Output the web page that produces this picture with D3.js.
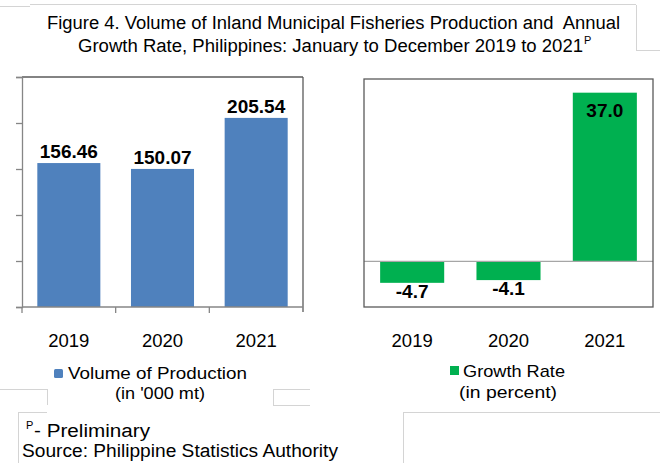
<!DOCTYPE html>
<html><head><meta charset="utf-8">
<script src="https://cdn.jsdelivr.net/npm/d3@7"></script>
<style>
html,body{margin:0;padding:0;background:#fff;}
svg{display:block;font-family:"Liberation Sans",Arial,sans-serif;}
</style></head>
<body>
<svg id="c" width="660" height="463"></svg>
<script>
const years = ["2019", "2020", "2021"];
const volume = [156.46, 150.07, 205.54];
const volumeLabels = ["156.46", "150.07", "205.54"];
const growth = [-4.7, -4.1, 37.0];
const growthLabels = ["-4.7", "-4.1", "37.0"];
const volumeTicks = [0, 50, 100, 150, 200, 250];
const titleLines = ["Figure 4. Volume of Inland Municipal Fisheries Production and  Annual",
                    "Growth Rate, Philippines: January to December 2019 to 2021"];
const legendVolume = ["Volume of Production", "(in '000 mt)"];
const legendGrowth = ["Growth Rate", "(in percent)"];
const footnotes = ["- Preliminary", "Source: Philippine Statistics Authority"];

const svg = d3.select("#c");
const light = "#d4d4d4", axisCol = "#868686", boxCol = "#5a5a5a";
const blue = "#4F81BD", green = "#00B050";

// decorative light frame lines
const frame = [
  [0,6,30,6],[30,4.5,636,4.5],[636,4.5,636,50],[636,50,660,50],
  [0,389,47,389],[47,389,47,405],
  [273,389,310,389],[273,389,273,405],[273,405,310,405],
  [18,412,47,412],[18,412,18,463],
  [403,412,660,412],[403,412,403,463]
];
svg.append("g").selectAll("line").data(frame).join("line")
  .attr("x1",d=>d[0]).attr("y1",d=>d[1]).attr("x2",d=>d[2]).attr("y2",d=>d[3])
  .attr("stroke",light).attr("stroke-width",1).attr("shape-rendering","crispEdges");

// title
const tg = svg.append("g").attr("fill","#000").style("font-size","18px");
tg.append("text").attr("x",47).attr("y",29).attr("textLength",573).attr("lengthAdjust","spacingAndGlyphs")
  .style("white-space","pre").text(titleLines[0]);
tg.append("text").attr("x",78).attr("y",52).attr("textLength",505).attr("lengthAdjust","spacingAndGlyphs")
  .text(titleLines[1]);
tg.append("text").attr("x",584).attr("y",44).style("font-size","11px").text("P");

// ---------- left chart ----------
const xL = d3.scaleBand().domain(years).range([22,303]).paddingInner(0.327).paddingOuter(0.1635);
const yL = d3.scaleLinear().domain([0,250]).range([307,77]);

const gL = svg.append("g");
gL.append("line").attr("x1",22).attr("x2",303).attr("y1",yL(250)).attr("y2",yL(250))
  .attr("stroke",boxCol).attr("stroke-width",1.3);
gL.append("line").attr("x1",303).attr("x2",303).attr("y1",yL(250)).attr("y2",312)
  .attr("stroke",boxCol).attr("stroke-width",1.3);

const yAx = gL.append("g").attr("transform","translate(22,0)")
  .call(d3.axisLeft(yL).tickValues(volumeTicks).tickSize(6).tickFormat(""));
yAx.selectAll("path,line").attr("stroke",axisCol).attr("stroke-width",1.3);

gL.selectAll("rect.bar").data(years).join("rect").attr("class","bar")
  .attr("x",d=>xL(d)).attr("width",xL.bandwidth())
  .attr("y",(d,i)=>yL(volume[i])).attr("height",(d,i)=>yL(0)-yL(volume[i]))
  .attr("fill",blue);

// bottom axis line & boundary ticks
const stepL = xL.step(), gapL = stepL*xL.paddingInner()/2;
const boundsL = years.map(d=>xL(d)-gapL).concat([xL(years[2])+xL.bandwidth()+gapL]);
gL.append("line").attr("x1",22).attr("x2",303).attr("y1",yL(0)).attr("y2",yL(0))
  .attr("stroke",axisCol).attr("stroke-width",1.3);
gL.selectAll("line.bt").data(boundsL.slice(0,3)).join("line").attr("class","bt")
  .attr("x1",d=>d).attr("x2",d=>d).attr("y1",yL(0)).attr("y2",yL(0)+6)
  .attr("stroke",axisCol).attr("stroke-width",1.3);

gL.selectAll("text.val").data(years).join("text").attr("class","val")
  .attr("x",d=>xL(d)+xL.bandwidth()/2).attr("y",(d,i)=>yL(volume[i])-5)
  .attr("text-anchor","middle").style("font-size","19px").style("font-weight","bold")
  .text((d,i)=>volumeLabels[i]);

gL.selectAll("text.cat").data(years).join("text").attr("class","cat")
  .attr("x",d=>xL(d)+xL.bandwidth()/2).attr("y",347)
  .attr("text-anchor","middle").style("font-size","18.5px").text(d=>d);

// ---------- right chart ----------
const xR = d3.scaleBand().domain(years).range([364,653]).paddingInner(0.335).paddingOuter(0.1675);
const yR = d3.scaleLinear().domain([-10,40]).range([307,79]);
const gR = svg.append("g");

gR.selectAll("rect.bar").data(years).join("rect").attr("class","bar")
  .attr("x",d=>xR(d)).attr("width",xR.bandwidth())
  .attr("y",(d,i)=>yR(Math.max(0,growth[i])))
  .attr("height",(d,i)=>Math.abs(yR(growth[i])-yR(0)))
  .attr("fill",green);

gR.append("line").attr("x1",364).attr("x2",653).attr("y1",yR(0)).attr("y2",yR(0))
  .attr("stroke","#a6a6a6").attr("stroke-width",1.2);
gR.append("rect").attr("x",364).attr("y",yR(40)).attr("width",653-364).attr("height",yR(-10)-yR(40))
  .attr("fill","none").attr("stroke",boxCol).attr("stroke-width",1.3);

gR.selectAll("text.val").data(years).join("text").attr("class","val")
  .attr("x",d=>xR(d)+xR.bandwidth()/2)
  .attr("y",(d,i)=>growth[i]>=0 ? yR(growth[i])+24 : yR(growth[i])+15)
  .attr("text-anchor","middle").style("font-size","19px").style("font-weight","bold")
  .text((d,i)=>growthLabels[i]);

gR.selectAll("text.cat").data(years).join("text").attr("class","cat")
  .attr("x",d=>xR(d)+xR.bandwidth()/2).attr("y",347)
  .attr("text-anchor","middle").style("font-size","18.5px").text(d=>d);

// ---------- legends ----------
const lg = svg.append("g").style("font-size","17px");
lg.append("rect").attr("x",54).attr("y",369).attr("width",9).attr("height",9).attr("rx",1.5).attr("fill",blue);
lg.append("text").attr("x",68).attr("y",379).attr("textLength",179).attr("lengthAdjust","spacingAndGlyphs").text(legendVolume[0]);
lg.append("text").attr("x",115).attr("y",399).attr("textLength",90).attr("lengthAdjust","spacingAndGlyphs").text(legendVolume[1]);

lg.append("rect").attr("x",450).attr("y",366).attr("width",9).attr("height",9).attr("fill",green);
lg.append("text").attr("x",463).attr("y",377).attr("textLength",102).attr("lengthAdjust","spacingAndGlyphs").text(legendGrowth[0]);
lg.append("text").attr("x",459).attr("y",398).attr("textLength",98).attr("lengthAdjust","spacingAndGlyphs").text(legendGrowth[1]);

// ---------- footnotes ----------
const fg = svg.append("g").style("font-size","18px");
fg.append("text").attr("x",26).attr("y",429).style("font-size","11px").text("P");
fg.append("text").attr("x",34).attr("y",437).attr("textLength",116).attr("lengthAdjust","spacingAndGlyphs").text(footnotes[0]);
fg.append("text").attr("x",22).attr("y",457).attr("textLength",316).attr("lengthAdjust","spacingAndGlyphs").text(footnotes[1]);
</script>
</body></html>
